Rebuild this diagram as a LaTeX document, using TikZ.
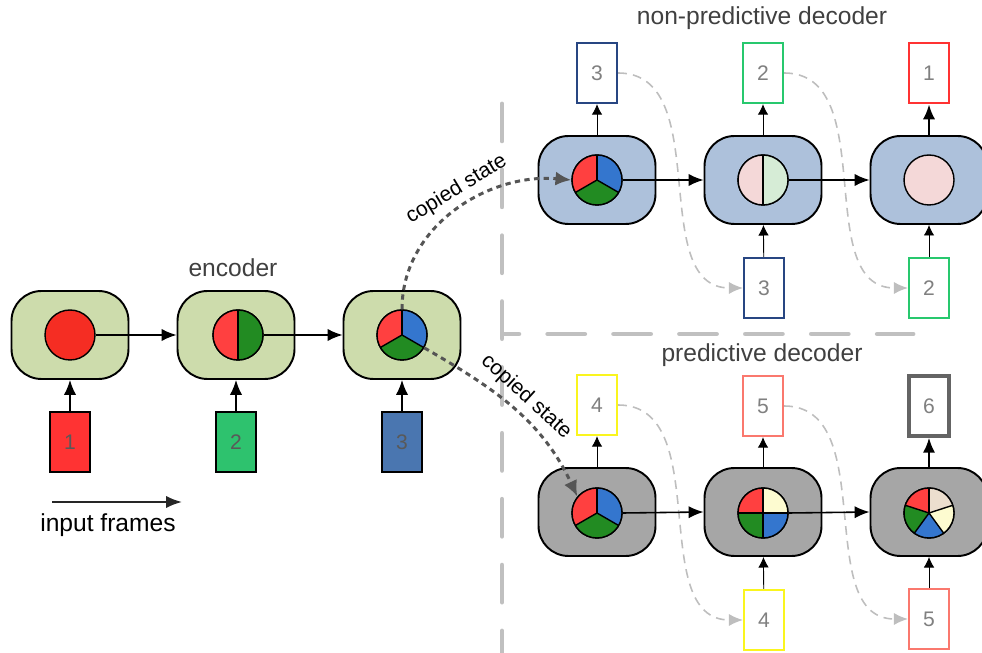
\documentclass[tikz,border=0pt]{standalone}
\usepackage{fontspec}
\setmainfont{Liberation Sans}
\usetikzlibrary{arrows.meta}

\definecolor{encfill}{RGB}{205,220,172}
\definecolor{decfill}{RGB}{173,193,219}
\definecolor{predfill}{RGB}{166,166,166}
\definecolor{fullred}{RGB}{245,45,35}
\definecolor{pred}{RGB}{255,64,64}
\definecolor{pgreen}{RGB}{34,139,34}
\definecolor{pblue}{RGB}{52,118,206}
\definecolor{pyellow}{RGB}{253,251,208}
\definecolor{ppink}{RGB}{244,216,216}
\definecolor{pmint}{RGB}{214,236,214}
\definecolor{pbeige}{RGB}{236,222,206}
\definecolor{fred}{RGB}{255,51,51}
\definecolor{fgreen}{RGB}{46,194,110}
\definecolor{fblue}{RGB}{74,118,176}
\definecolor{onavy}{RGB}{40,70,130}
\definecolor{ogreen}{RGB}{40,200,110}
\definecolor{ored}{RGB}{255,50,50}
\definecolor{oyellow}{RGB}{250,245,30}
\definecolor{osalmon}{RGB}{250,120,110}
\definecolor{ogray}{RGB}{100,100,100}
\definecolor{copygray}{RGB}{85,85,85}
\definecolor{sepgray}{RGB}{192,192,192}
\definecolor{feedgray}{RGB}{190,190,190}

% slices of a state circle: node, start/end/colour list, dividers
\newcommand{\drawpie}[3]{%
  \foreach \s/\t/\c in {#2}
    \fill[\c] (#1.center) -- ++(\s:0.5cm) arc[start angle=\s, end angle=\t, radius=0.5cm] -- cycle;
  \foreach \a in {#3}
    \draw[line width=0.8pt] (#1.center) -- ++(\a:0.5cm);
  \draw[line width=0.8pt] (#1.center) circle[radius=0.5cm];
}

\begin{document}
\begin{tikzpicture}[x=0.02cm,y=0.02cm,>={Latex[length=6pt,width=6pt]},
    box/.style={draw, line width=1.1pt, rounded corners=0.6cm, minimum width=2.34cm, minimum height=1.76cm},
    ball/.style={circle, draw, line width=0.8pt, minimum size=1cm, inner sep=0pt},
    frame/.style={draw, line width=0.8pt, minimum width=0.8cm, minimum height=1.2cm, inner sep=0pt, font=\fontsize{12}{14}\selectfont, text=black!65},
    outframe/.style={frame, fill=white, line width=1.3pt, text=black!50},
    heading/.style={font=\fontsize{14}{16}\selectfont, text=black!75},
    link/.style={->, line width=0.9pt, >={Latex[length=8.5pt,width=7pt]}},
    thin/.style={->, line width=0.5pt},
    feed/.style={->, feedgray, line width=0.9pt, dash pattern=on 5pt off 3.5pt, >={Latex[length=8pt,width=7pt]}},
    copied/.style={->, copygray, line width=1.7pt, dash pattern=on 3pt off 2.5pt, >={Latex[length=9pt,width=8pt]}},
    sep/.style={sepgray, line width=2.8pt, line cap=round, dash pattern=on 21pt off 16.5pt}]
    \useasboundingbox (0,0) rectangle (982,652);

    % separators
    \draw[sep] (502,548) -- (502,0);
    \draw[sep, dash phase=12pt] (503,318) -- (913,318);

    % encoder
    \node[heading] (enclabel) at (233,384) {encoder};
    \node[box, fill=encfill] (e1) at (70,317) {};
    \node[box, fill=encfill] (e2) at (236,317) {};
    \node[box, fill=encfill] (e3) at (402,317) {};
    \node[ball, fill=fullred] (e1c) at (70,317) {};
    \node[ball] (e2c) at (238,317) {};
    \node[ball] (e3c) at (402,317) {};
    \drawpie{e2c}{90/270/pred, -90/90/pgreen}{90,270}
    \drawpie{e3c}{90/210/pred, 210/330/pgreen, -30/90/pblue}{90,210,330}

    \node[frame, fill=fred] (f1) at (70,210) {1};
    \node[frame, fill=fgreen] (f2) at (236,210) {2};
    \node[frame, fill=fblue] (f3) at (402,210) {3};
    \draw[link] (f1) -- (e1);
    \draw[link] (f2) -- (e2);
    \draw[link] (f3) -- (e3);
    \draw[link] (e1c.east) -- (e2.west);
    \draw[link] (e2c.east) -- (e3.west);

    \coordinate (tstart) at (52,150);
    \coordinate (tend) at (182,150);
    \draw[->, black!85, line width=1.2pt, >={Latex[length=9pt,width=7pt]}] (tstart) -- (tend);
    \node[font=\fontsize{14}{16}\selectfont] (inlabel) at (108,127) {input frames};

    % non-predictive decoder
    \node[heading] (nplabel) at (762,634) {non-predictive decoder};
    \node[box, fill=decfill] (n1) at (597,472) {};
    \node[box, fill=decfill] (n2) at (763,472) {};
    \node[box, fill=decfill] (n3) at (929,472) {};
    \node[ball] (n1c) at (597,472) {};
    \node[ball] (n2c) at (763,472) {};
    \node[ball, fill=ppink] (n3c) at (929,472) {};
    \drawpie{n1c}{90/210/pred, 210/330/pgreen, -30/90/pblue}{90,210,330}
    \drawpie{n2c}{90/270/ppink, -90/90/pmint}{90,270}

    \node[outframe, draw=onavy] (n1o) at (597,579) {3};
    \node[outframe, draw=ogreen] (n2o) at (763,579) {2};
    \node[outframe, draw=ored, line width=1.6pt] (n3o) at (929,579) {1};
    \node[outframe, draw=onavy] (n2i) at (764,364) {3};
    \node[outframe, draw=ogreen] (n3i) at (929,364) {2};

    \draw[feed] (n1o.east) to[out=0,in=180] (n2i.west);
    \draw[feed] (n2o.east) to[out=0,in=180] (n3i.west);
    \draw[thin] (n1) -- (n1o);
    \draw[thin] (n2) -- (n2o);
    \draw[link, line width=1.3pt] (n3) -- (n3o);
    \draw[thin] (n2i) -- (n2);
    \draw[thin] (n3i) -- (n3);
    \draw[link] (n1c.east) -- (n2.west);
    \draw[link] (n2c.east) -- (n3.west);

    % predictive decoder
    \node[heading] (plabel) at (762,297) {predictive decoder};
    \node[box, fill=predfill] (p1) at (597,140) {};
    \node[box, fill=predfill] (p2) at (763,140) {};
    \node[box, fill=predfill] (p3) at (929,140) {};
    \node[ball] (p1c) at (597,139) {};
    \node[ball] (p2c) at (763,139) {};
    \node[ball] (p3c) at (929,139) {};
    \drawpie{p1c}{90/210/pred, 210/330/pgreen, -30/90/pblue}{90,210,330}
    \drawpie{p2c}{90/180/pred, 180/270/pgreen, 270/360/pblue, 0/90/pyellow}{0,90,180,270}
    \drawpie{p3c}{90/162/pred, 162/234/pgreen, 234/306/pblue, 306/378/pyellow, 18/90/pbeige}{90,162,234,306,18}

    \node[outframe, draw=oyellow] (p1o) at (597,247) {4};
    \node[outframe, draw=osalmon] (p2o) at (763,246) {5};
    \node[outframe, draw=ogray, line width=2pt] (p3o) at (929,246) {6};
    \node[outframe, draw=oyellow] (p2i) at (764,32) {4};
    \node[outframe, draw=osalmon] (p3i) at (929,33) {5};

    \draw[feed] (p1o.east) to[out=0,in=180] (p2i.west);
    \draw[feed] (p2o.east) to[out=0,in=180] (p3i.west);
    \draw[thin] (p1) -- (p1o);
    \draw[thin] (p2) -- (p2o);
    \draw[link, line width=1.3pt] (p3) -- (p3o);
    \draw[thin] (p2i) -- (p2);
    \draw[thin] (p3i) -- (p3);
    \draw[link] (p1c.east) -- (p2.west);
    \draw[link] (p2c.east) -- (p3.west);

    % copied state
    \draw[copied] (e3c.north) to[out=90,in=175]
        node[pos=0.55, sloped, above, black, font=\fontsize{12}{13}\selectfont] {copied state} (n1c.west);
    \draw[copied] (e3c.-30) to[out=-30,in=115]
        node[pos=0.5, sloped, above, black, font=\fontsize{12}{13}\selectfont] {copied state} (p1c.140);
\end{tikzpicture}
\end{document}
